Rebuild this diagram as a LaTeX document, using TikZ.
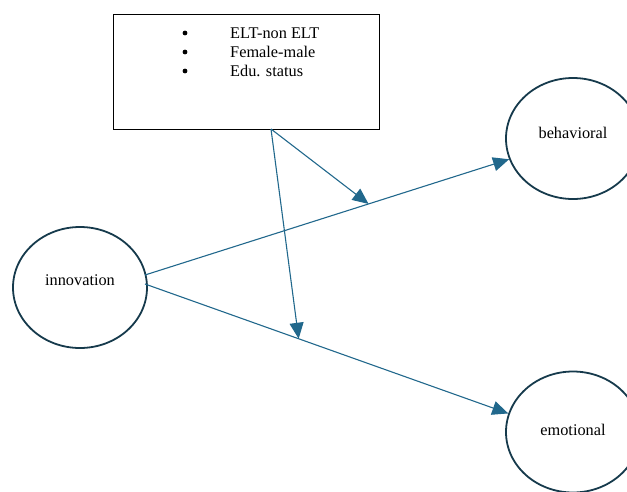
\documentclass[tikz,border=0pt]{standalone}
\usepackage{fontspec}
\setmainfont{Liberation Serif}
\usetikzlibrary{arrows.meta,shapes.geometric,calc}
\definecolor{arrowblue}{HTML}{21688C}
\definecolor{circlecol}{HTML}{163A4C}
\tikzset{
  latent/.style={ellipse,draw=circlecol,line width=1.8pt,minimum width=134pt,minimum height=121pt,inner sep=0pt,font=\fontsize{16.3}{19}\selectfont},
  path/.style={draw=arrowblue,line width=1.1pt,-{Triangle[length=16pt,width=14pt]}},
  modbox/.style={draw=black,line width=0.9pt,minimum width=266pt,minimum height=115pt,inner sep=0pt},
  itemtext/.style={font=\fontsize{16.3}{19}\selectfont,anchor=west,inner sep=0pt}
}
\begin{document}
\begin{tikzpicture}[x=1pt,y=-1pt]
\useasboundingbox (0,0) rectangle (627,491);
\node[modbox] (box) at (246,71.5) {};
\node[itemtext] (t1) at (230,33) {ELT-non ELT};
\node[itemtext] (t2) at (230,52) {Female-male};
\node[itemtext] (t3) at (230,71) {Edu. status};
\fill (185,33) circle (2.4pt);
\fill (185,52) circle (2.4pt);
\fill (185,71) circle (2.4pt);
\node[latent] (inn) at (80,287.5) {\raisebox{15pt}{innovation}};
\node[latent] (beh) at (573,138.5) {\raisebox{11pt}{behavioral}};
\node[latent] (emo) at (573,432) {\raisebox{4pt}{emotional}};
\coordinate (s1) at (145,275);
\coordinate (s2) at (145,284);
\coordinate (m) at (271,129);
\draw[path] (s1) -- (beh.198.7);
\draw[path] (s2) -- (emo.164);
\coordinate (p1) at ($(s1)!0.614!(beh.198.7)$);
\coordinate (p2) at ($(s2)!0.423!(emo.164)$);
\draw[path] (m) -- (p1);
\draw[path] (m) -- (p2);
\end{tikzpicture}
\end{document}
